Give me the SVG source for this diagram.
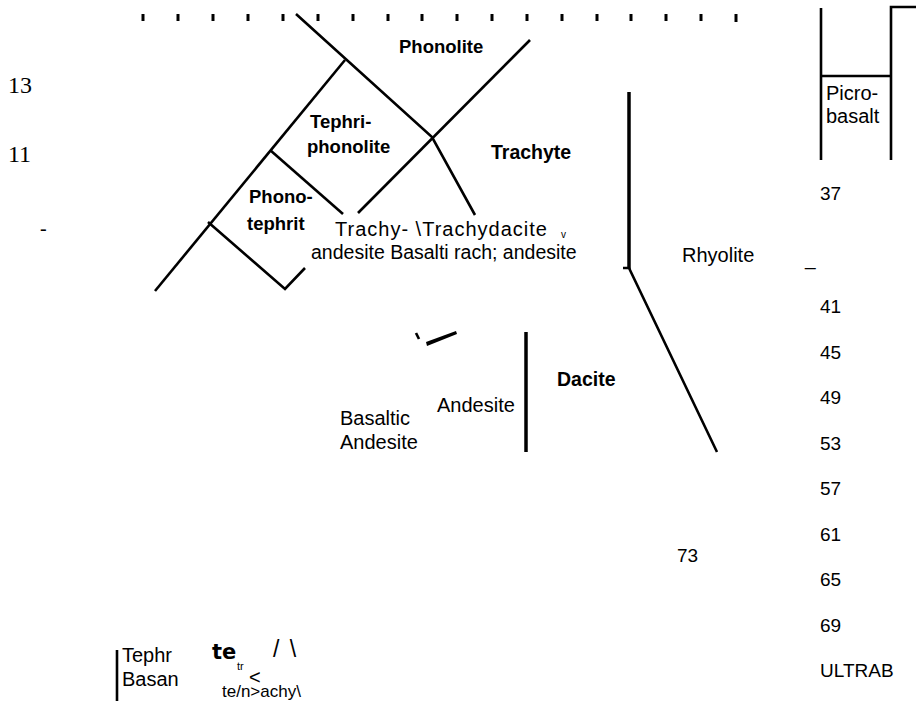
<svg xmlns="http://www.w3.org/2000/svg" width="916" height="701" viewBox="0 0 916 701">
<style>
.ln{fill:none;stroke:#000;stroke-width:2.6;stroke-linecap:butt;stroke-linejoin:miter}
.thk{fill:none;stroke:#000;stroke-width:3.5}
.tk{stroke:#000;stroke-width:3}
.b{font-family:"Liberation Sans",Arial,sans-serif;font-weight:bold;font-size:18.5px;fill:#000}
.r{font-family:"Liberation Sans",Arial,sans-serif;font-size:20px;fill:#000}
.n{font-family:"Liberation Sans",Arial,sans-serif;font-size:19px;fill:#000}
.s{font-family:"Liberation Serif","Times New Roman",serif;font-size:24px;fill:#000}
</style>
<rect width="916" height="701" fill="#fff"/>
<g id="ticks">
<line class="tk" x1="143" y1="14" x2="143" y2="21"/><line class="tk" x1="178" y1="14" x2="178" y2="21"/><line class="tk" x1="213" y1="14" x2="213" y2="21"/><line class="tk" x1="248" y1="14" x2="248" y2="21"/><line class="tk" x1="283" y1="14" x2="283" y2="21"/><line class="tk" x1="318" y1="14" x2="318" y2="21"/><line class="tk" x1="353" y1="14" x2="353" y2="21"/><line class="tk" x1="388" y1="14" x2="388" y2="21"/><line class="tk" x1="422" y1="14" x2="422" y2="21"/><line class="tk" x1="457" y1="14" x2="457" y2="21"/><line class="tk" x1="492" y1="14" x2="492" y2="21"/><line class="tk" x1="527" y1="14" x2="527" y2="21"/><line class="tk" x1="562" y1="14" x2="562" y2="21"/><line class="tk" x1="597" y1="14" x2="597" y2="21"/><line class="tk" x1="631" y1="14" x2="631" y2="21"/><line class="tk" x1="666" y1="14" x2="666" y2="21"/><line class="tk" x1="701" y1="14" x2="701" y2="21"/><line class="tk" x1="736" y1="14" x2="736" y2="22"/>
</g>
<g id="connectors">
<polyline class="ln" points="296,14 432,137 475,215"/>
<line class="ln" x1="530" y1="40" x2="358" y2="213"/>
<line class="ln" x1="345" y1="60" x2="155" y2="291"/>
<line class="ln" x1="270" y1="150" x2="343" y2="214"/>
<polyline class="ln" points="208,222 285,289 305,268"/>
<line class="thk" x1="629" y1="92" x2="629" y2="269"/>
<polyline class="ln" points="623,268 629,268 717,452"/>
<line class="thk" x1="526" y1="332" x2="526" y2="452"/>
<line class="ln" x1="416" y1="333" x2="419" y2="339"/>
<polygon points="426,342 456,331 457,334 427,346" fill="#000"/>
<polyline class="ln" points="821,8 821,160"/>
<polyline class="ln" points="821,76 891,76"/>
<polyline class="ln" points="916,7 891,7 891,160"/>
<line class="ln" x1="117" y1="650" x2="117" y2="701"/>
</g>
<g id="axis-left">
<text class="s" x="8" y="93">13</text>
<text class="s" x="8" y="162">11</text>
<text class="s" x="40" y="235" style="font-size:20px">-</text>
</g>
<g id="phonolite"><text class="b" x="399" y="53">Phonolite</text></g>
<g id="tephriphonolite"><text class="b" x="310" y="128">Tephri-</text><text class="b" x="307" y="153">phonolite</text></g>
<g id="trachyte"><text class="b" x="491" y="159" style="font-size:19.5px">Trachyte</text></g>
<g id="phonotephrite"><text class="b" x="249" y="203">Phono-</text><text class="b" x="247" y="230">tephrit</text></g>
<g id="trachyandesite"><text class="r" x="335" y="236" style="letter-spacing:1px">Trachy- \Trachydacite</text><text class="r" x="561" y="238" style="font-size:10px">v</text><text class="r" x="311" y="259" style="font-size:19.5px">andesite Basalti rach; andesite</text></g>
<g id="rhyolite"><text class="r" x="682" y="262">Rhyolite</text></g>
<g id="dacite"><text class="b" x="557" y="386" style="font-size:19.5px">Dacite</text></g>
<g id="andesite"><text class="r" x="437" y="412">Andesite</text></g>
<g id="basaltic-andesite"><text class="r" x="340" y="425">Basaltic</text><text class="r" x="340" y="449">Andesite</text></g>
<g id="picrobasalt"><text class="r" x="826" y="100">Picro-</text><text class="r" x="826" y="123">basalt</text></g>
<g id="axis-right">
<text class="n" x="820" y="200">37</text>
<text class="n" x="805" y="265">_</text>
<text class="n" x="820" y="313">41</text>
<text class="n" x="820" y="359">45</text>
<text class="n" x="820" y="404">49</text>
<text class="n" x="820" y="450">53</text>
<text class="n" x="820" y="495">57</text>
<text class="n" x="820" y="541">61</text>
<text class="n" x="820" y="586">65</text>
<text class="n" x="820" y="632">69</text>
<text class="n" x="820" y="677">ULTRAB</text>
<text class="n" x="677" y="562">73</text>
</g>
<g id="bottom-legend">
<text class="r" x="122" y="662">Tephr</text>
<text class="r" x="122" y="686">Basan</text>
<text x="212" y="659" style="font-family:'DejaVu Sans',sans-serif;font-weight:600;font-size:21px">te</text>
<text class="r" x="273" y="657" style="font-size:23px;letter-spacing:2px">/ \</text>
<text class="r" x="237" y="670" style="font-size:11px">tr</text>
<text class="r" x="249" y="684" style="font-size:20px">&lt;</text>
<text class="r" x="222" y="697" style="font-size:17px">te/n&gt;achy\</text>
<text class="r" x="242" y="709" style="font-size:11px">a /</text>
</g>
</svg>
